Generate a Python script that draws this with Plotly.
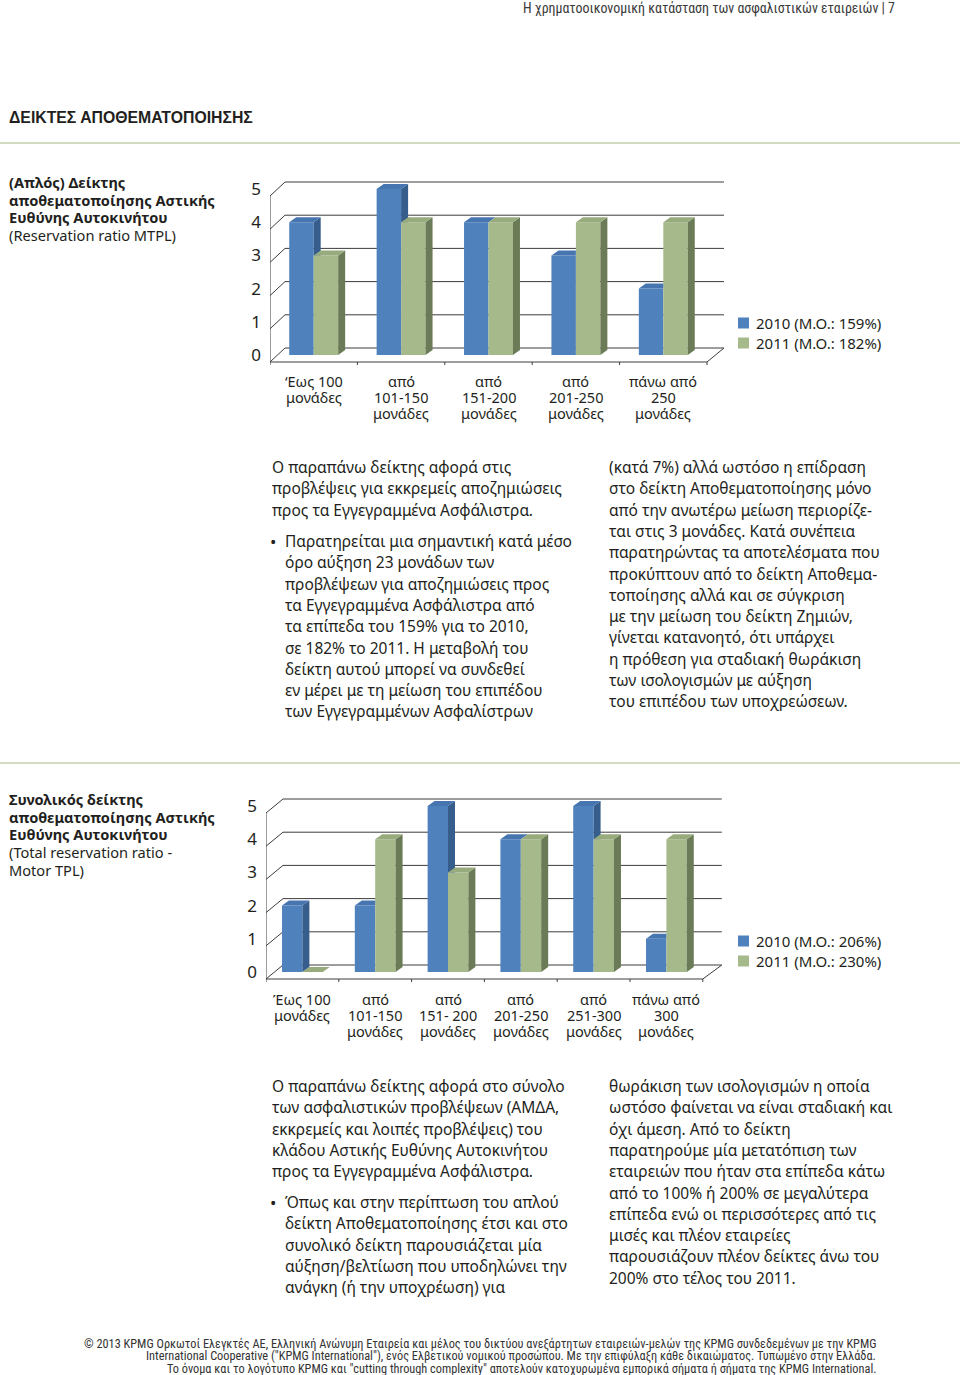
import plotly.graph_objects as go

W, H = 960, 1375

# ---------------- data ----------------
categories_a = ["‘Εως 100\nμονάδες", "από\n101-150\nμονάδες", "από\n151-200\nμονάδες",
                "από\n201-250\nμονάδες", "πάνω από\n250\nμονάδες"]
values_2010_a = [4, 5, 4, 3, 2]
values_2011_a = [3, 4, 4, 4, 4]
series_a = ["2010 (Μ.Ο.: 159%)", "2011 (Μ.Ο.: 182%)"]

categories_b = ["Έως 100\nμονάδες", "από\n101-150\nμονάδες", "από\n151- 200\nμονάδες",
                "από\n201-250\nμονάδες", "από\n251-300\nμονάδες", "πάνω από\n300\nμονάδες"]
values_2010_b = [2, 2, 5, 4, 5, 1]
values_2011_b = [0, 4, 3, 4, 4, 4]
series_b = ["2010 (Μ.Ο.: 206%)", "2011 (Μ.Ο.: 230%)"]

y_ticks = [0, 1, 2, 3, 4, 5]

BLUE = ("#4F81BD", "#375D8C", "#4675B0")
GREEN = ("#A6B98B", "#6C7B57", "#97AB7C")
FONT = "Noto Sans, Open Sans, sans-serif"
NARROW = "Liberation Sans Narrow, Roboto Condensed, Roboto, sans-serif"
TXT = "#231F20"


def px(x):
    return x / W


def py(y):
    return 1 - y / H


fig = go.Figure()
annotations = []
shapes = []


def add_lines(x, y0, dy, lines, size=15.5, bold=False, color=TXT, family=FONT, anchor="left"):
    for i, t in enumerate(lines):
        annotations.append(dict(
            x=px(x), y=py(y0 + i * dy), xref="paper", yref="paper",
            text=f"<b>{t}</b>" if bold else t, showarrow=False,
            xanchor=anchor, yanchor="middle",
            font=dict(size=size, color=color, family=family)))


def build_chart(idx, cats, v10, v11, names, g):
    n = len(cats)
    xa, ya = ("x", "y") if idx == 1 else (f"x{idx}", f"y{idx}")
    cw, uy, x0, base = g["cw"], g["uy"], g["x0"], g["base"]
    xmax = n - 0.5 + 0.3
    ylo, yhi = -0.3, 5.5
    lay_x = "xaxis" if idx == 1 else f"xaxis{idx}"
    lay_y = "yaxis" if idx == 1 else f"yaxis{idx}"
    fig.layout[lay_x] = dict(domain=[px(x0), px(x0 + cw * (xmax + 0.5))], range=[-0.5, xmax],
                             showgrid=False, zeroline=False, showticklabels=False,
                             showline=False, anchor=ya, fixedrange=True)
    fig.layout[lay_y] = dict(domain=[py(base - ylo * uy), py(base - yhi * uy)], range=[ylo, yhi],
                             showgrid=False, zeroline=False, showline=False, anchor=xa,
                             tickvals=y_ticks, ticktext=[str(t) for t in y_ticks],
                             tickfont=dict(size=17, color=TXT, family=FONT),
                             ticks="", ticklabelstandoff=g["standoff"], fixedrange=True)
    fy = 7 / uy
    bx = g["back_dx"] / cw
    xend = n - 0.5 + (g["back_dx"] + 2) / cw
    lc = dict(color="#3C3C3C", width=1)

    def seg(xa0, ya0, xa1, ya1):
        shapes.append(dict(type="line", xref=xa, yref=ya, x0=xa0, y0=ya0, x1=xa1, y1=ya1,
                           line=lc, layer="below"))

    for k in y_ticks:
        seg(-0.5 + bx, k + fy, xend, k + fy)
        seg(-0.5, k - fy, -0.5 + bx, k + fy)
    seg(-0.5, -fy, n - 0.5, -fy)
    seg(-0.5, -fy, -0.5, y_ticks[-1] - fy)
    seg(n - 0.5, -fy, xend, fy)
    for b in range(n + 1):
        seg(b - 0.5, -fy, b - 0.5, -fy - 4 / uy)

    bw = 0.28
    ddx, ddy = 7 / cw, 5 / uy
    xs = list(range(n))
    fig.add_trace(go.Bar(x=xs, y=v10, width=bw, offset=-bw, name=names[0],
                         marker=dict(color=BLUE[0], line=dict(width=0)),
                         xaxis=xa, yaxis=ya, showlegend=False))
    fig.add_trace(go.Bar(x=xs, y=v11, width=bw, offset=0, name=names[1],
                         marker=dict(color=GREEN[0], line=dict(width=0)),
                         xaxis=xa, yaxis=ya, showlegend=False))

    def poly_trace(px_, py_, color):
        fig.add_trace(go.Scatter(x=px_, y=py_, mode="lines", fill="toself", fillcolor=color,
                                 line=dict(width=0, color=color), hoverinfo="skip",
                                 showlegend=False, xaxis=xa, yaxis=ya))

    for i in range(n):
        h, gv = v10[i], v11[i]
        xl, xr = i - bw, i
        sx, sy = [], []
        if gv <= 0:
            sx, sy = [xr, xr + ddx, xr + ddx, xr, xr], [0, ddy, h + ddy, h, 0]
        elif gv < h:
            sx, sy = [xr, xr + ddx, xr + ddx, xr, xr], [gv, max(gv, ddy), h + ddy, h, gv]
        if sx:
            poly_trace(sx, sy, BLUE[1])
        if gv > h:
            tx, ty = [xl, xr, xr, xl + ddx, xl], [h, h, h + ddy, h + ddy, h]
        else:
            tx, ty = [xl, xr, xr + ddx, xl + ddx, xl], [h, h, h + ddy, h + ddy, h]
        poly_trace(tx, ty, BLUE[2])
        gl, gr = i, i + bw
        if gv > 0:
            poly_trace([gr, gr + ddx, gr + ddx, gr, gr], [0, ddy, gv + ddy, gv, 0], GREEN[1])
        poly_trace([gl, gr, gr + ddx, gl + ddx, gl], [gv, gv, gv + ddy, gv + ddy, gv], GREEN[2])

    for i, c in enumerate(cats):
        for j, t in enumerate(c.split("\n")):
            annotations.append(dict(x=i, y=py(g["lab_y"] + j * 16), xref=xa, yref="paper",
                                    text=t, showarrow=False, xanchor="center", yanchor="middle",
                                    font=dict(size=14.5, color=TXT, family=FONT)))
    for j, (nm, col) in enumerate(zip(names, (BLUE[0], GREEN[0]))):
        yc = g["leg_y"] + j * 20
        shapes.append(dict(type="rect", xref="paper", yref="paper",
                           x0=px(738), x1=px(749), y0=py(yc - 5.5), y1=py(yc + 5.5),
                           fillcolor=col, line=dict(width=0)))
        annotations.append(dict(x=px(754), y=py(yc), xref="paper", yref="paper", text=nm,
                                showarrow=False, xanchor="left", yanchor="middle",
                                font=dict(size=15, color=TXT, family=FONT)))


geom_a = dict(cw=87.4, uy=33.2, x0=270, base=355, back_dx=15, standoff=8, lab_y=381, leg_y=323)
geom_b = dict(cw=72.8, uy=33.2, x0=266, base=972, back_dx=17, standoff=8, lab_y=999, leg_y=941)
build_chart(1, categories_a, values_2010_a, values_2011_a, series_a, geom_a)
build_chart(2, categories_b, values_2010_b, values_2011_b, series_b, geom_b)

# ---------------- page text ----------------
annotations.append(dict(x=px(897), y=py(8), xref="paper", yref="paper",
                        text="Η χρηματοοικονομική κατάσταση των ασφαλιστικών εταιρειών | 7",
                        showarrow=False, xanchor="right", yanchor="middle",
                        font=dict(size=13.9, color="#3A3A3A", family=NARROW)))
add_lines(7, 118, 0, ["ΔΕΙΚΤΕΣ ΑΠΟΘΕΜΑΤΟΠΟΙΗΣΗΣ"], size=15.8, bold=True,
          family="Liberation Sans, Arial, sans-serif")
for yline in (143, 763):
    shapes.append(dict(type="line", xref="paper", yref="paper", x0=0, x1=1,
                       y0=py(yline), y1=py(yline), line=dict(color="#D3DBC3", width=2)))

add_lines(7, 182, 17.7, ["(Απλός) Δείκτης", "αποθεματοποίησης Αστικής", "Ευθύνης Αυτοκινήτου"],
          size=14.6, bold=True)
add_lines(7, 235, 17.7, ["(Reservation ratio MTPL)"], size=14.6)

add_lines(7, 799, 17.7, ["Συνολικός δείκτης", "αποθεματοποίησης Αστικής", "Ευθύνης Αυτοκινήτου"],
          size=14.6, bold=True)
add_lines(7, 852, 17.7, ["(Total reservation ratio -", "Motor TPL)"], size=14.6)

LS = 21.3
add_lines(270, 467, LS, ["Ο παραπάνω δείκτης αφορά στις",
                         "προβλέψεις για εκκρεμείς αποζημιώσεις",
                         "προς τα Εγγεγραμμένα Ασφάλιστρα."])
add_lines(268, 541, 0, ["•"], size=17)
add_lines(283, 541, LS, ["Παρατηρείται μια σημαντική κατά μέσο",
                         "όρο αύξηση 23 μονάδων των",
                         "προβλέψεων για αποζημιώσεις προς",
                         "τα Εγγεγραμμένα Ασφάλιστρα από",
                         "τα επίπεδα του 159% για το 2010,",
                         "σε 182% το 2011. Η μεταβολή του",
                         "δείκτη αυτού μπορεί να συνδεθεί",
                         "εν μέρει με τη μείωση του επιπέδου",
                         "των Εγγεγραμμένων Ασφαλίστρων"])
add_lines(607, 467, LS, ["(κατά 7%) αλλά ωστόσο η επίδραση",
                         "στο δείκτη Αποθεματοποίησης μόνο",
                         "από την ανωτέρω μείωση περιορίζε-",
                         "ται στις 3 μονάδες. Κατά συνέπεια",
                         "παρατηρώντας τα αποτελέσματα που",
                         "προκύπτουν από το δείκτη Αποθεμα-",
                         "τοποίησης αλλά και σε σύγκριση",
                         "με την μείωση του δείκτη Ζημιών,",
                         "γίνεται κατανοητό, ότι υπάρχει",
                         "η πρόθεση για σταδιακή θωράκιση",
                         "των ισολογισμών με αύξηση",
                         "του επιπέδου των υποχρεώσεων."])

add_lines(270, 1086, LS, ["Ο παραπάνω δείκτης αφορά στο σύνολο",
                          "των ασφαλιστικών προβλέψεων (ΑΜΔΑ,",
                          "εκκρεμείς και λοιπές προβλέψεις) του",
                          "κλάδου Αστικής Ευθύνης Αυτοκινήτου",
                          "προς τα Εγγεγραμμένα Ασφάλιστρα."])
add_lines(268, 1202, 0, ["•"], size=17)
add_lines(283, 1202, LS, ["Όπως και στην περίπτωση του απλού",
                          "δείκτη Αποθεματοποίησης έτσι και στο",
                          "συνολικό δείκτη παρουσιάζεται μία",
                          "αύξηση/βελτίωση που υποδηλώνει την",
                          "ανάγκη (ή την υποχρέωση) για"])
add_lines(607, 1086, LS, ["θωράκιση των ισολογισμών η οποία",
                          "ωστόσο φαίνεται να είναι σταδιακή και",
                          "όχι άμεση. Από το δείκτη",
                          "παρατηρούμε μία μετατόπιση των",
                          "εταιρειών που ήταν στα επίπεδα κάτω",
                          "από το 100% ή 200% σε μεγαλύτερα",
                          "επίπεδα ενώ οι περισσότερες από τις",
                          "μισές και πλέον εταιρείες",
                          "παρουσιάζουν πλέον δείκτες άνω του",
                          "200% στο τέλος του 2011."])

add_lines(878, 1344, 12.5, [
    "© 2013 KPMG Ορκωτοί Ελεγκτές ΑΕ, Ελληνική Ανώνυμη Εταιρεία και μέλος του δικτύου ανεξάρτητων εταιρειών-μελών της KPMG συνδεδεμένων με την KPMG",
    "International Cooperative (\"KPMG International\"), ενός Ελβετικού νομικού προσώπου. Με την επιφύλαξη κάθε δικαιώματος. Τυπωμένο στην Ελλάδα.",
    "Το όνομα και το λογότυπο KPMG και \"cutting through complexity\" αποτελούν κατοχυρωμένα εμπορικά σήματα ή σήματα της KPMG International."],
    size=12.3, color="#333333", family=NARROW, anchor="right")

fig.update_layout(width=W, height=H, margin=dict(l=0, r=0, t=0, b=0),
                  paper_bgcolor="white", plot_bgcolor="rgba(0,0,0,0)",
                  barmode="overlay", showlegend=False,
                  annotations=annotations, shapes=shapes)

fig.write_html("out.html", config={"displayModeBar": False, "staticPlot": True},
               post_script="document.body.style.margin='0';document.body.style.overflow='hidden';")
